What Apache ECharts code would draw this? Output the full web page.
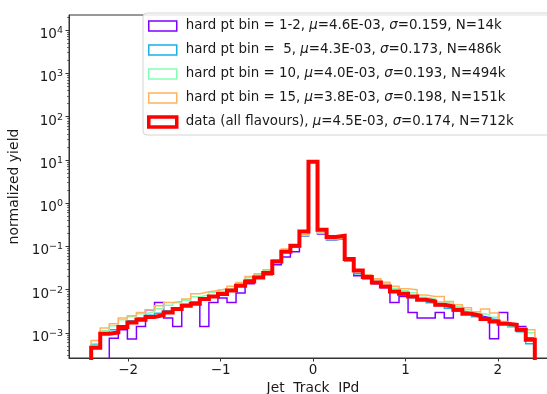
<!DOCTYPE html>
<html>
<head>
<meta charset="utf-8">
<script src="https://cdn.jsdelivr.net/npm/echarts@6/dist/echarts.min.js"></script>
<style>
  html, body { margin: 0; padding: 0; background: #ffffff; }
  #chart { width: 547px; height: 394px; }
</style>
</head>
<body>
<div id="chart"></div>
<script>
// Histogram binning: 49 equal bins over [-2.4, 2.4]
const binLow = -2.4;
const binHigh = 2.4;
const binCount = 49;

// Normalized yields per bin (left to right), one array per sample
const hardPt1to2 = [0, 0, 7.57e-4, 1.19e-3, 7.26e-4, 1.42e-3, 3.45e-3, 5.09e-3, 2.22e-3, 1.42e-3,
  4.50e-3, 4.75e-3, 1.42e-3, 5.09e-3, 6.43e-3, 5.09e-3, 8.39e-3, 1.38e-2, 1.86e-2, 2.22e-2,
  3.78e-2, 5.69e-2, 7.57e-2, 0.177, 9.0, 0.195, 0.143, 0.151, 4.67e-2, 2.10e-2,
  1.80e-2, 1.38e-2, 1.11e-2, 5.09e-3, 7.00e-3, 2.99e-3, 2.22e-3, 2.22e-3, 2.99e-3, 2.22e-3,
  3.27e-3, 2.79e-3, 2.51e-3, 2.26e-3, 7.35e-4, 2.99e-3, 1.64e-3, 1.42e-3, 7.70e-4];

const hardPt5 = [5.37e-4, 1.02e-3, 1.19e-3, 1.48e-3, 1.92e-3, 2.26e-3, 2.58e-3, 2.87e-3, 3.27e-3, 3.84e-3,
  4.61e-3, 5.28e-3, 6.20e-3, 7.26e-3, 8.75e-3, 1.00e-2, 1.31e-2, 1.70e-2, 2.05e-2, 2.60e-2,
  4.43e-2, 7.35e-2, 9.58e-2, 0.177, 9.1, 0.203, 0.143, 0.151, 4.67e-2, 2.34e-2,
  1.89e-2, 1.45e-2, 1.17e-2, 8.75e-3, 7.57e-3, 6.56e-3, 5.72e-3, 5.01e-3, 4.27e-3, 3.74e-3,
  3.27e-3, 2.95e-3, 2.38e-3, 2.14e-3, 2.03e-3, 1.73e-3, 1.40e-3, 1.07e-3, 5.67e-4];

const hardPt10 = [5.67e-4, 1.13e-3, 1.48e-3, 2.03e-3, 2.38e-3, 2.79e-3, 3.10e-3, 3.64e-3, 4.39e-3, 5.01e-3,
  5.72e-3, 6.89e-3, 7.57e-3, 8.75e-3, 1.00e-2, 1.11e-2, 1.41e-2, 1.89e-2, 2.22e-2, 2.82e-2,
  4.80e-2, 8.17e-2, 0.107, 0.181, 9.05, 0.213, 0.151, 0.159, 5.20e-2, 2.60e-2,
  2.10e-2, 1.70e-2, 1.38e-2, 1.08e-2, 9.49e-3, 8.50e-3, 6.72e-3, 6.20e-3, 5.28e-3, 4.75e-3,
  4.05e-3, 3.45e-3, 2.87e-3, 2.65e-3, 2.30e-3, 1.82e-3, 1.48e-3, 1.19e-3, 1.02e-3];

const hardPt15 = [6.75e-4, 1.31e-3, 1.64e-3, 2.22e-3, 2.51e-3, 2.99e-3, 3.45e-3, 4.27e-3, 5.09e-3, 5.37e-3,
  6.10e-3, 8.08e-3, 8.98e-3, 9.63e-3, 1.06e-2, 1.20e-2, 1.47e-2, 2.03e-2, 2.34e-2, 2.90e-2,
  4.93e-2, 8.71e-2, 0.109, 0.185, 9.0, 0.203, 0.148, 0.156, 5.48e-2, 2.75e-2,
  2.22e-2, 1.80e-2, 1.49e-2, 1.20e-2, 1.06e-2, 1.00e-2, 7.57e-3, 7.00e-3, 7.00e-3, 5.37e-3,
  4.50e-3, 3.84e-3, 3.10e-3, 3.58e-3, 2.90e-3, 1.85e-3, 1.55e-3, 1.33e-3, 1.19e-3];

const dataAll = [4.58e-4, 9.60e-4, 1.03e-3, 1.38e-3, 1.76e-3, 2.03e-3, 2.34e-3, 2.60e-3, 2.99e-3, 3.58e-3,
  4.27e-3, 4.75e-3, 6.10e-3, 7.00e-3, 7.96e-3, 9.63e-3, 1.24e-2, 1.55e-2, 1.92e-2, 2.43e-2,
  4.51e-2, 7.57e-2, 0.104, 0.222, 9.1, 0.243, 0.165, 0.177, 5.12e-2, 2.79e-2,
  1.96e-2, 1.47e-2, 1.19e-2, 9.14e-3, 8.08e-3, 7.00e-3, 5.88e-3, 5.37e-3, 4.50e-3, 4.11e-3,
  3.45e-3, 2.79e-3, 2.51e-3, 2.10e-3, 1.85e-3, 1.64e-3, 1.55e-3, 1.19e-3, 7.00e-4];

const seriesNames = [
  'hard pt bin = 1-2, μ=4.6E-03, σ=0.159, N=14k',
  'hard pt bin =  5, μ=4.3E-03, σ=0.173, N=486k',
  'hard pt bin = 10, μ=4.0E-03, σ=0.193, N=494k',
  'hard pt bin = 15, μ=3.8E-03, σ=0.198, N=151k',
  'data (all flavours), μ=4.5E-03, σ=0.174, N=712k'
];
const seriesColors = ['#8000ff', '#1ab0e6', '#80ffb4', '#ffb360', '#ff0000'];
const seriesWidths = [1.5, 1.5, 1.5, 1.5, 4];

// Axis ticks
const xTicks = [-2, -1, 0, 1, 2];
const yDecades = [-3, -2, -1, 0, 1, 2, 3, 4];

const xRange = [-2.64, 2.64];
const yLogRange = [-3.577, 4.346];
const FLOOR = -8; // log10 stand-in for empty bins, far below the plot

const edges = [];
for (let i = 0; i <= binCount; i++) edges.push(binLow + (binHigh - binLow) * i / binCount);

// Step outline of a histogram: up from the floor, across each bin, back down
function stepOutline(vals) {
  const lv = vals.map(v => (v > 0 ? Math.log10(v) : FLOOR));
  const pts = [[edges[0], FLOOR]];
  lv.forEach((y, i) => pts.push([edges[i], y]));
  pts.push([edges[binCount], lv[binCount - 1]]);
  pts.push([edges[binCount], FLOOR]);
  return pts;
}

const minorTicks = [];
for (let e = -4; e <= 4; e++) {
  for (let m = 2; m <= 9; m++) {
    const v = Math.log10(m) + e;
    if (v > yLogRange[0] && v < yLogRange[1]) minorTicks.push(v);
  }
}

const allValues = [hardPt1to2, hardPt5, hardPt10, hardPt15, dataAll];
const textColor = '#1a1a1a';
const fontFamily = '"DejaVu Sans", sans-serif';

const supText = n => (n < 0 ? '\u2212' + Math.abs(n) : String(n));

const chart = echarts.init(document.getElementById('chart'), null, { renderer: 'canvas' });
chart.setOption({
  animation: false,
  backgroundColor: '#ffffff',
  textStyle: { fontFamily: fontFamily, color: textColor },
  grid: {
    left: 69, top: 15, width: 488, height: 343,
    outerBoundsMode: 'none', containLabel: false,
    show: true, borderColor: '#333333', borderWidth: 1, backgroundColor: 'transparent'
  },
  xAxis: {
    type: 'value', min: xRange[0], max: xRange[1],
    name: 'Jet  Track  IPd', nameLocation: 'middle', nameGap: 20,
    nameTextStyle: { fontSize: 13.8, color: textColor, fontFamily: fontFamily },
    axisLine: { show: true, onZero: false, lineStyle: { color: '#333333', width: 1 } },
    axisTick: { show: true, inside: false, length: 3.5, customValues: xTicks, lineStyle: { color: '#333333' } },
    axisLabel: {
      show: true, customValues: xTicks, margin: 5, fontSize: 13.5, color: textColor, fontFamily: fontFamily,
      formatter: v => (v < 0 ? '\u2212' + Math.abs(v) : String(v))
    },
    splitLine: { show: false }
  },
  yAxis: [
    {
      type: 'value', min: yLogRange[0], max: yLogRange[1], position: 'left',
      name: 'normalized yield', nameLocation: 'middle', nameGap: 38, nameRotate: 90,
      nameTextStyle: { fontSize: 14, color: textColor, fontFamily: fontFamily },
      axisLine: { show: true, onZero: false, lineStyle: { color: '#333333', width: 1 } },
      axisTick: { show: true, inside: false, length: 3.5, customValues: yDecades, lineStyle: { color: '#333333' } },
      axisLabel: {
        show: true, customValues: yDecades, margin: 6, padding: [7, 0, 0, 0],
        formatter: v => '{b|10}{s|' + supText(Math.round(v)) + '}',
        rich: {
          b: { fontSize: 13.5, color: textColor, fontFamily: fontFamily, verticalAlign: 'bottom' },
          s: { fontSize: 9.5, color: textColor, fontFamily: fontFamily, verticalAlign: 'bottom', padding: [0, 0, 6, 0] }
        }
      },
      splitLine: { show: false }
    },
    {
      type: 'value', min: yLogRange[0], max: yLogRange[1], position: 'left',
      axisLine: { show: false, onZero: false },
      axisTick: { show: true, inside: false, length: 2, customValues: minorTicks, lineStyle: { color: '#333333', width: 0.7 } },
      axisLabel: { show: false },
      splitLine: { show: false }
    }
  ],
  legend: {
    orient: 'vertical', left: 143, top: 13,
    padding: [5, 45, 5, 4],
    itemGap: 8, itemWidth: 28, itemHeight: 10,
    backgroundColor: 'rgba(255,255,255,0.85)', borderColor: '#d4d4d4', borderWidth: 1, borderRadius: 4,
    selectedMode: false,
    data: seriesNames.map((n, i) => ({
      name: n, icon: 'rect',
      itemStyle: { color: 'transparent', borderColor: seriesColors[i], borderWidth: i === 4 ? 3.5 : 1.5 }
    })),
    formatter: name => name.replace('μ', '{g|μ}').replace('σ', '{g|σ}'),
    textStyle: {
      fontSize: 13.4, color: textColor, fontFamily: fontFamily, lineHeight: 16, padding: [0, 0, 0, 4],
      rich: { g: { fontSize: 13.4, fontStyle: 'italic', color: textColor, fontFamily: fontFamily } }
    }
  },
  series: allValues.map((vals, i) => ({
    name: seriesNames[i],
    type: 'line',
    step: 'end',
    showSymbol: false,
    symbol: 'none',
    clip: true,
    z: 2 + i,
    color: seriesColors[i],
    lineStyle: { color: seriesColors[i], width: seriesWidths[i], join: 'miter' },
    itemStyle: { color: seriesColors[i] },
    data: stepOutline(vals)
  }))
});
</script>
</body>
</html>
